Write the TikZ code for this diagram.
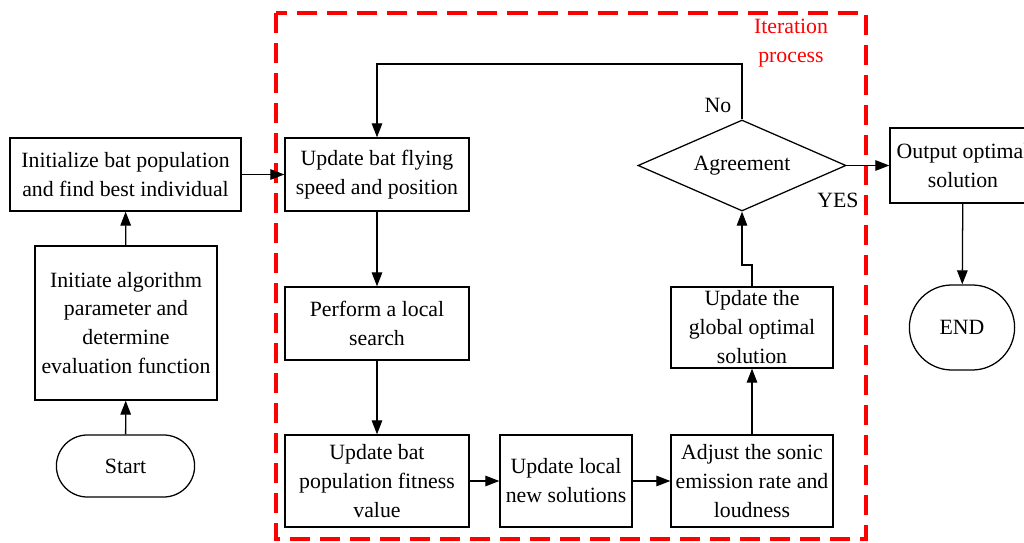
\documentclass[tikz,border=0pt]{standalone}
\usepackage{fontspec}
\setmainfont{Liberation Serif}
\usetikzlibrary{shapes.geometric,shapes.misc,arrows.meta,positioning}

\begin{document}
\begin{tikzpicture}[x=0.025cm,y=-0.025cm,
                    every node/.style={font=\fontsize{15.5}{20.6}\selectfont,align=center,inner sep=1pt},
                    stepbox/.style={rectangle,draw,line width=0.9pt},
                    term/.style={rounded rectangle,draw,line width=0.9pt},
                    decide/.style={diamond,draw,line width=0.9pt,aspect=2.29,inner sep=0pt},
                    arr/.style={-{Triangle[length=10pt,width=7.5pt]},line width=0.9pt}]

  \clip (0,0) rectangle (1024,543);

  % outside the loop
  \node[stepbox,minimum width=5.775cm,minimum height=1.825cm] (init) at (125.5,174.5) {Initialize bat population\\and find best individual};
  \node[stepbox,minimum width=4.55cm,minimum height=3.85cm] (param) at (126,323) {Initiate algorithm\\parameter and\\determine\\evaluation function};
  \node[term,minimum width=3.525cm,minimum height=1.55cm] (start) at (125.5,466) {Start};

  % iteration process
  \node[stepbox,minimum width=4.6cm,minimum height=1.825cm] (fly) at (377,174.5) {Update bat flying\\speed and position};
  \node[stepbox,minimum width=4.6cm,minimum height=1.825cm] (search) at (377,323.5) {Perform a local\\search};
  \node[stepbox,minimum width=4.6cm,minimum height=2.3cm] (fitness) at (377,481) {Update bat\\population fitness\\value};
  \node[stepbox,minimum width=3.3cm,minimum height=2.3cm] (localnew) at (566,481) {Update local\\new solutions};
  \node[stepbox,minimum width=4.05cm,minimum height=2.3cm] (adjust) at (752,481) {Adjust the sonic\\emission rate and\\loudness};
  \node[stepbox,minimum width=4.05cm,minimum height=2.025cm] (global) at (752,327.5) {Update the\\global optimal\\solution};
  \node[decide,minimum width=5.2cm,minimum height=2.275cm] (agree) at (742,165.5) {Agreement};

  \node[stepbox,minimum width=3.65cm,minimum height=1.875cm] (output) at (963,165.5) {Output optimal\\solution};
  \node[term,minimum width=2.7cm,minimum height=2.125cm] (end) at (962,327.5) {END};

  \draw[red,line width=2.3pt,dash pattern=on 0.5cm off 0.25cm] (276,13) rectangle (866,539);
  \node[red] (iter) at (791,43) {Iteration\\process};

  \node (no) at (718,105) {No};
  \node (yes) at (838,200) {YES};

  \coordinate (jog) at (752,265);
  \coordinate (looptop) at (0,64);

  \draw[arr] (start) -- (param);
  \draw[arr] (param) -- (init);
  \draw[arr] (init) -- (fly);
  \draw[arr] (fly) -- (search);
  \draw[arr] (search) -- (fitness);
  \draw[arr] (fitness) -- (localnew);
  \draw[arr] (localnew) -- (adjust);
  \draw[arr] (adjust) -- (global);
  \draw[arr] (global.north) -- (jog) -| (agree.south);
  \draw[arr] (agree.north) -- (agree.north |- looptop) -| (fly.north);
  \draw[arr] (agree) -- (output);
  \draw[arr] (output) -- (end);
\end{tikzpicture}
\end{document}
